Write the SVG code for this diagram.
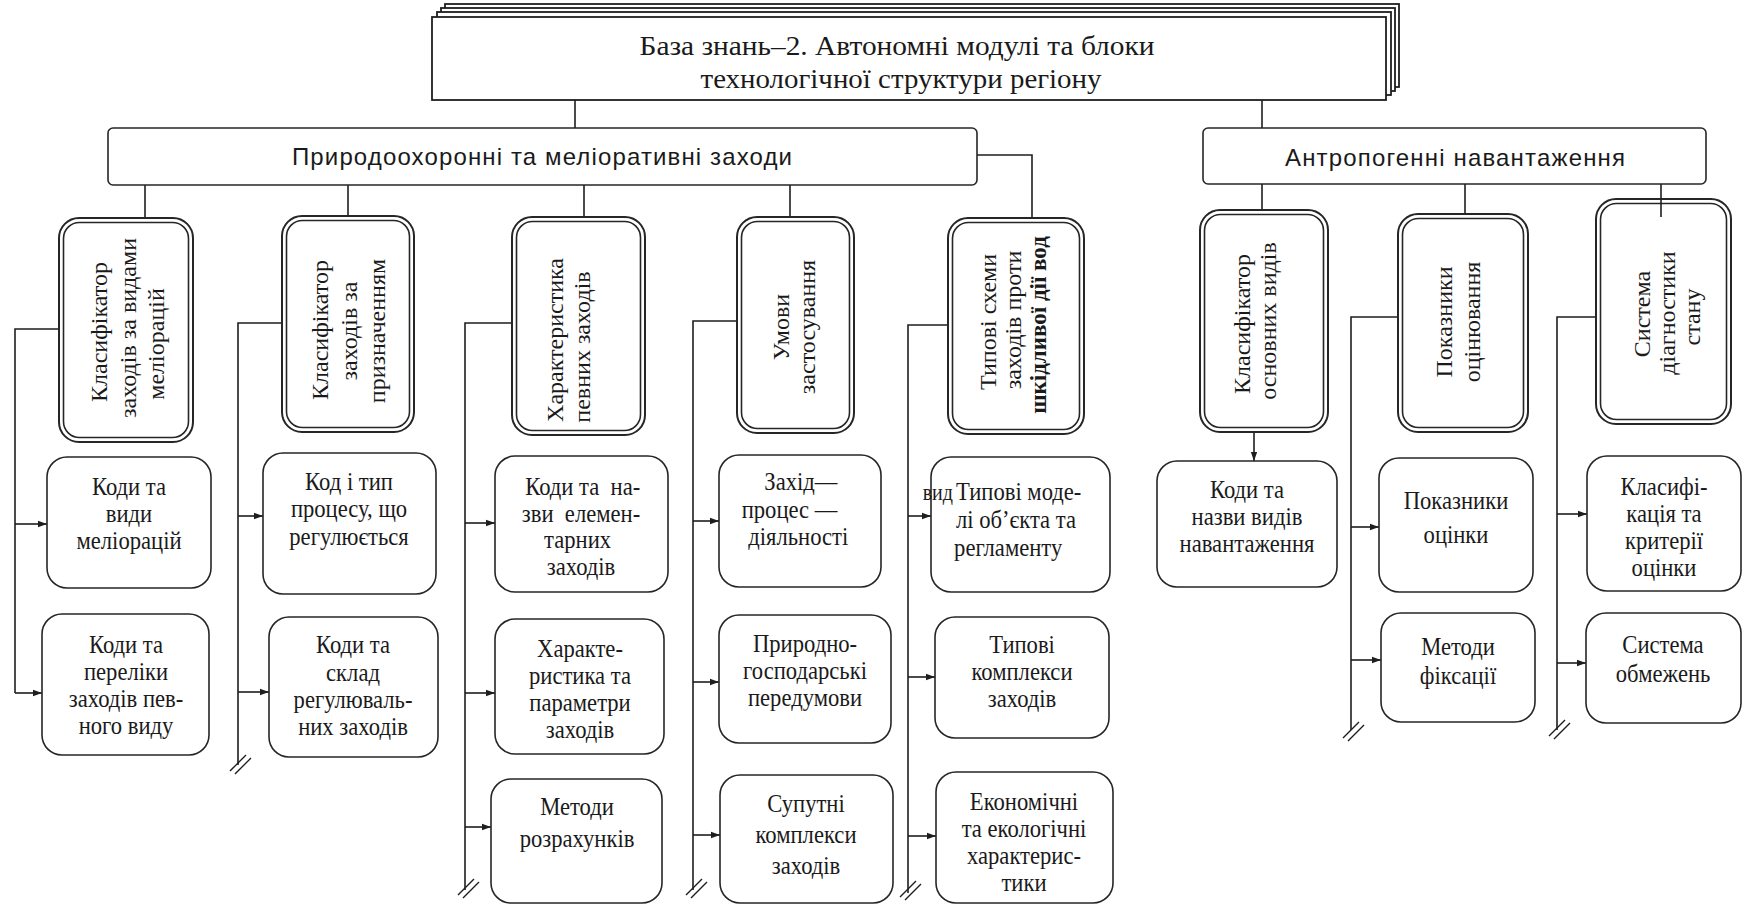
<svg xmlns="http://www.w3.org/2000/svg" width="1746" height="910" viewBox="0 0 1746 910">
<style>
.ln{fill:none;stroke:#1e1e1e;stroke-width:1.6}
.ar{fill:none;stroke:#1e1e1e;stroke-width:1.6;marker-end:url(#ah)}
.box{fill:#fff;stroke:#262626;stroke-width:1.6}
.dbo{fill:#fff;stroke:#262626;stroke-width:2}
.dbi{fill:none;stroke:#262626;stroke-width:1.6}
.tb{fill:#fff;stroke:#1e1e1e;stroke-width:1.8}
.t{font-family:"Liberation Serif","Times New Roman",serif;font-size:26px;fill:#1a1a1a;text-anchor:middle}
.v{font-family:"Liberation Serif","Times New Roman",serif;font-size:24px;fill:#1a1a1a;text-anchor:middle}
.s{font-family:"Liberation Sans",Arial,sans-serif;font-size:24px;fill:#1a1a1a;text-anchor:middle}
.ti{font-family:"Liberation Serif","Times New Roman",serif;font-size:28px;fill:#1a1a1a;text-anchor:middle}
.bk{fill:none;stroke:#1e1e1e;stroke-width:1.4}
.st{text-anchor:start}
.en{text-anchor:end}
</style>
<defs>
<marker id="ah" viewBox="0 0 10 10" refX="10" refY="5" markerWidth="9" markerHeight="9" markerUnits="userSpaceOnUse" orient="auto">
<path d="M0,1.5 L10,5 L0,8.5 z" fill="#1e1e1e"/>
</marker>
<g id="brk"><path class="bk" d="M-10,7 L6,-9 M-5,10 L11,-6"/></g>
</defs>
<rect width="1746" height="910" fill="#fff"/>

<g id="title">
<rect class="tb" x="445" y="4" width="954" height="83"/>
<rect class="tb" x="441" y="8" width="954" height="83"/>
<rect class="tb" x="437" y="12" width="954" height="83"/>
<rect class="tb" x="432" y="17" width="954" height="83"/>
<text class="ti" x="897" y="55" textLength="515" lengthAdjust="spacingAndGlyphs">База знань–2. Автономні модулі та блоки</text>
<text class="ti" x="901" y="88" textLength="401" lengthAdjust="spacingAndGlyphs">технологічної структури регіону</text>
</g>

<g id="connectors">
<path class="ln" d="M575,100 V128"/>
<path class="ln" d="M1262,100 V128"/>
<path class="ln" d="M145,185 V218"/>
<path class="ln" d="M348,185 V216"/>
<path class="ln" d="M584,185 V217"/>
<path class="ln" d="M790,185 V217"/>
<path class="ln" d="M977,155 H1032 V218"/>
<path class="ln" d="M1262,184 V210"/>
<path class="ln" d="M1465,184 V214"/>
<path class="ln" d="M1661,184 V217"/>
<path class="ln" d="M59,329 H15 V693"/>
<path class="ar" d="M15,524 H47"/>
<path class="ar" d="M15,693 H42"/>
<path class="ln" d="M282,323 H238 V765"/>
<path class="ar" d="M238,516 H263"/>
<path class="ar" d="M238,692 H269"/>
<use href="#brk" x="240" y="764"/>
<path class="ln" d="M512,323 H465 V890"/>
<path class="ar" d="M465,523 H495"/>
<path class="ar" d="M465,693 H495"/>
<path class="ar" d="M465,827 H491"/>
<use href="#brk" x="468" y="888"/>
<path class="ln" d="M737,321 H693 V890"/>
<path class="ar" d="M693,521 H719"/>
<path class="ar" d="M693,682 H719"/>
<path class="ar" d="M693,835 H720"/>
<use href="#brk" x="696" y="888"/>
<path class="ln" d="M948,325 H908 V893"/>
<path class="ar" d="M908,516 H931"/>
<path class="ar" d="M908,677 H935"/>
<path class="ar" d="M908,836 H936"/>
<use href="#brk" x="910" y="890"/>
<path class="ar" d="M1254,432 V461"/>
<path class="ln" d="M1398,317 H1351 V730"/>
<path class="ar" d="M1351,527 H1379"/>
<path class="ar" d="M1351,660 H1381"/>
<use href="#brk" x="1353" y="731"/>
<path class="ln" d="M1604,317 H1557 V730"/>
<path class="ar" d="M1557,514 H1587"/>
<path class="ar" d="M1557,663 H1586"/>
<use href="#brk" x="1559" y="729"/>
</g>

<g id="pryrodo">
<rect class="box" x="108" y="128" width="869" height="57" rx="5"/>
<text class="s" x="542" y="165" textLength="500" lengthAdjust="spacing">Природоохоронні та меліоративні заходи</text>
</g>
<g id="antropo">
<rect class="box" x="1203" y="128" width="503" height="56" rx="5"/>
<text class="s" x="1455" y="166" textLength="340" lengthAdjust="spacing">Антропогенні навантаження</text>
</g>

<g id="b1">
<rect class="dbo" x="59" y="218" width="134" height="224" rx="20"/>
<rect class="dbi" x="63.5" y="222.5" width="125" height="215" rx="16"/>
<text class="v" transform="translate(107,332) rotate(-90)">Класифікатор</text>
<text class="v" transform="translate(136,328) rotate(-90)">заходів за видами</text>
<text class="v" transform="translate(164,344) rotate(-90)">меліорацій</text>
</g>
<g id="b2">
<rect class="dbo" x="282" y="216" width="132" height="216" rx="20"/>
<rect class="dbi" x="286.5" y="220.5" width="123" height="207" rx="16"/>
<text class="v" transform="translate(328,330) rotate(-90)">Класифікатор</text>
<text class="v" transform="translate(357,331) rotate(-90)">заходів за</text>
<text class="v" transform="translate(385,331) rotate(-90)">призначенням</text>
</g>
<g id="b3">
<rect class="dbo" x="512" y="217" width="133" height="218" rx="20"/>
<rect class="dbi" x="516.5" y="221.5" width="124" height="209" rx="16"/>
<text class="v" transform="translate(563,340) rotate(-90)">Характеристика</text>
<text class="v" transform="translate(590,347) rotate(-90)">певних заходів</text>
</g>
<g id="b4">
<rect class="dbo" x="737" y="217" width="117" height="216" rx="20"/>
<rect class="dbi" x="741.5" y="221.5" width="108" height="207" rx="16"/>
<text class="v" transform="translate(789,327) rotate(-90)">Умови</text>
<text class="v" transform="translate(815,327) rotate(-90)">застосування</text>
</g>
<g id="b5">
<rect class="dbo" x="948" y="218" width="136" height="216" rx="20"/>
<rect class="dbi" x="952.5" y="222.5" width="127" height="207" rx="16"/>
<text class="v" transform="translate(996,322) rotate(-90)">Типові схеми</text>
<text class="v" transform="translate(1021,320) rotate(-90)">заходів проти</text>
<text class="v" style="font-weight:bold;font-size:23px" transform="translate(1046,325) rotate(-90)">шкідливої дії вод</text>
</g>
<g id="b6">
<rect class="dbo" x="1200" y="210" width="128" height="222" rx="20"/>
<rect class="dbi" x="1204.5" y="214.5" width="119" height="213" rx="16"/>
<text class="v" transform="translate(1250,324) rotate(-90)">Класифікатор</text>
<text class="v" transform="translate(1276,321) rotate(-90)">основних видів</text>
</g>
<g id="b7">
<rect class="dbo" x="1398" y="214" width="130" height="218" rx="20"/>
<rect class="dbi" x="1402.5" y="218.5" width="121" height="209" rx="16"/>
<text class="v" transform="translate(1452,322) rotate(-90)">Показники</text>
<text class="v" transform="translate(1480,322) rotate(-90)">оцінювання</text>
</g>
<g id="b8">
<rect class="dbo" x="1596" y="199" width="135" height="225" rx="20"/>
<rect class="dbi" x="1600.5" y="203.5" width="126" height="216" rx="16"/>
<text class="v" transform="translate(1650,314) rotate(-90)">Система</text>
<text class="v" transform="translate(1675,313) rotate(-90)">діагностики</text>
<text class="v" transform="translate(1700,317) rotate(-90)">стану</text>
</g>
<path class="ln" d="M1661,199 V217"/>

<g id="c1a">
<rect class="box" x="47" y="457" width="164" height="131" rx="20"/>
<g transform="translate(129,0) scale(0.87,1)">
<text class="t" x="0" y="495">Коди та</text>
<text class="t" x="0" y="522">види</text>
<text class="t" x="0" y="549">меліорацій</text>
</g>
</g>
<g id="c1b">
<rect class="box" x="42" y="614" width="167" height="141" rx="20"/>
<g transform="translate(126,0) scale(0.87,1)">
<text class="t" x="0" y="653">Коди та</text>
<text class="t" x="0" y="680">переліки</text>
<text class="t" x="0" y="707">заходів пев-</text>
<text class="t" x="0" y="734">ного виду</text>
</g>
</g>
<g id="c2a">
<rect class="box" x="263" y="453" width="173" height="141" rx="20"/>
<g transform="translate(349,0) scale(0.87,1)">
<text class="t" x="0" y="490">Код і тип</text>
<text class="t" x="0" y="517">процесу, що</text>
<text class="t" x="0" y="545">регулюється</text>
</g>
</g>
<g id="c2b">
<rect class="box" x="269" y="617" width="169" height="140" rx="20"/>
<g transform="translate(353,0) scale(0.87,1)">
<text class="t" x="0" y="653">Коди та</text>
<text class="t" x="0" y="681">склад</text>
<text class="t" x="0" y="708">регулюваль-</text>
<text class="t" x="0" y="735">них заходів</text>
</g>
</g>
<g id="c3a">
<rect class="box" x="495" y="456" width="173" height="136" rx="20"/>
<g transform="translate(581,0) scale(0.87,1)">
<text class="t" x="2" y="495" xml:space="preserve">Коди та  на-</text>
<text class="t" x="0" y="522" xml:space="preserve">зви  елемен-</text>
<text class="t" x="-4" y="548">тарних</text>
<text class="t" x="0" y="575">заходів</text>
</g>
</g>
<g id="c3b">
<rect class="box" x="495" y="619" width="169" height="135" rx="20"/>
<g transform="translate(580,0) scale(0.87,1)">
<text class="t" x="0" y="657">Характе-</text>
<text class="t" x="0" y="684">ристика та</text>
<text class="t" x="0" y="711">параметри</text>
<text class="t" x="0" y="738">заходів</text>
</g>
</g>
<g id="c3c">
<rect class="box" x="491" y="779" width="171" height="124" rx="20"/>
<g transform="translate(577,0) scale(0.87,1)">
<text class="t" x="0" y="815">Методи</text>
<text class="t" x="0" y="847">розрахунків</text>
</g>
</g>
<g id="c4a">
<rect class="box" x="719" y="455" width="162" height="132" rx="20"/>
<g transform="translate(800,0) scale(0.87,1)">
<text class="t" x="1" y="490">Захід—</text>
<text class="t" x="-12" y="518">процес —</text>
<text class="t" x="-2" y="545">діяльності</text>
</g>
</g>
<g id="c4b">
<rect class="box" x="719" y="615" width="172" height="128" rx="20"/>
<g transform="translate(805,0) scale(0.87,1)">
<text class="t" x="0" y="652">Природно-</text>
<text class="t" x="0" y="679">господарські</text>
<text class="t" x="0" y="706">передумови</text>
</g>
</g>
<g id="c4c">
<rect class="box" x="720" y="775" width="173" height="128" rx="20"/>
<g transform="translate(806,0) scale(0.87,1)">
<text class="t" x="0" y="812">Супутні</text>
<text class="t" x="0" y="843">комплекси</text>
<text class="t" x="0" y="874">заходів</text>
</g>
</g>
<g id="c5a">
<rect class="box" x="931" y="457" width="179" height="135" rx="20"/>
<g transform="translate(953,0) scale(0.87,1)">
<text class="t en" x="0" y="500" style="font-size:23px">вид</text>
</g>
<g transform="translate(956,0) scale(0.87,1)">
<text class="t st" x="0" y="500">Типові моде-</text>
</g>
<g transform="translate(1016,0) scale(0.87,1)">
<text class="t" x="0" y="528">лі об’єкта та</text>
<text class="t" x="-9" y="556">регламенту</text>
</g>
</g>
<g id="c5b">
<rect class="box" x="935" y="617" width="174" height="121" rx="20"/>
<g transform="translate(1022,0) scale(0.87,1)">
<text class="t" x="0" y="653">Типові</text>
<text class="t" x="0" y="680">комплекси</text>
<text class="t" x="0" y="707">заходів</text>
</g>
</g>
<g id="c5c">
<rect class="box" x="936" y="772" width="177" height="131" rx="20"/>
<g transform="translate(1024,0) scale(0.87,1)">
<text class="t" x="0" y="810">Економічні</text>
<text class="t" x="0" y="837">та екологічні</text>
<text class="t" x="0" y="864">характерис-</text>
<text class="t" x="0" y="891">тики</text>
</g>
</g>
<g id="c6a">
<rect class="box" x="1157" y="461" width="180" height="126" rx="20"/>
<g transform="translate(1247,0) scale(0.87,1)">
<text class="t" x="0" y="498">Коди та</text>
<text class="t" x="0" y="525">назви видів</text>
<text class="t" x="0" y="552">навантаження</text>
</g>
</g>
<g id="c7a">
<rect class="box" x="1379" y="458" width="154" height="134" rx="20"/>
<g transform="translate(1456,0) scale(0.87,1)">
<text class="t" x="0" y="509">Показники</text>
<text class="t" x="0" y="543">оцінки</text>
</g>
</g>
<g id="c7b">
<rect class="box" x="1381" y="613" width="154" height="109" rx="20"/>
<g transform="translate(1458,0) scale(0.87,1)">
<text class="t" x="0" y="655">Методи</text>
<text class="t" x="0" y="684">фіксації</text>
</g>
</g>
<g id="c8a">
<rect class="box" x="1587" y="456" width="154" height="135" rx="20"/>
<g transform="translate(1664,0) scale(0.87,1)">
<text class="t" x="0" y="495">Класифі-</text>
<text class="t" x="0" y="522">кація та</text>
<text class="t" x="0" y="549">критерії</text>
<text class="t" x="0" y="576">оцінки</text>
</g>
</g>
<g id="c8b">
<rect class="box" x="1586" y="613" width="155" height="110" rx="20"/>
<g transform="translate(1663,0) scale(0.87,1)">
<text class="t" x="0" y="653">Система</text>
<text class="t" x="0" y="682">обмежень</text>
</g>
</g>
</svg>
